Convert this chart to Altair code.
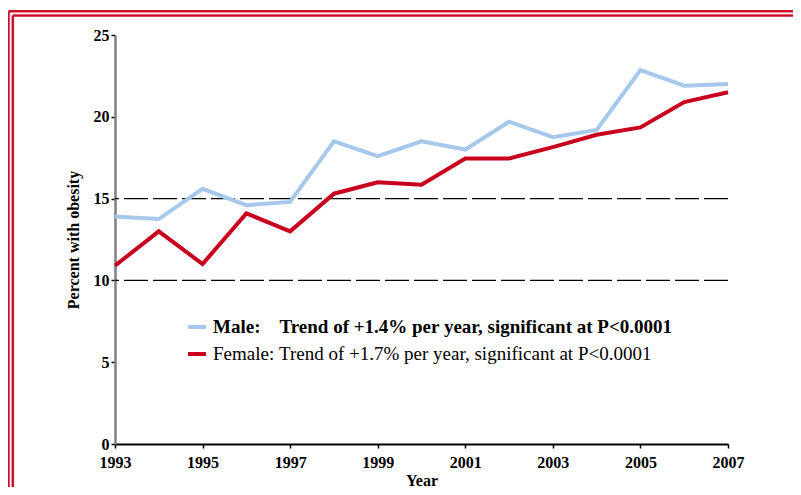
import altair as alt
import pandas as pd

years = list(range(1993, 2008))
male = [13.9, 13.75, 15.6, 14.6, 14.8, 18.5, 17.6, 18.5, 18.0, 19.7, 18.75, 19.2, 22.85, 21.9, 22.0]
female = [10.9, 13.0, 11.0, 14.1, 13.0, 15.3, 16.0, 15.85, 17.45, 17.45, 18.15, 18.9, 19.35, 20.9, 21.5]

NB = "\u00a0"
male_label = "Male:" + NB * 4 + "Trend of +1.4% per year, significant at P<0.0001"
female_label = "Female:" + NB + "Trend of +1.7% per year, significant at P<0.0001"
series_labels = [male_label, female_label]
series_colors = ["#a6c8ea", "#c8001e"]

x_ticks = [1993, 1995, 1997, 1999, 2001, 2003, 2005, 2007]
y_ticks = [0, 5, 10, 15, 20, 25]
grid_values = [10, 15]

FONT = "Liberation Serif"
BORDER = "#cc0f2c"

rows = []
for y, m, f in zip(years, male, female):
    rows.append({"year": y, "value": m, "series": male_label})
    rows.append({"year": y, "value": f, "series": female_label})
df = pd.DataFrame(rows)

x_scale = alt.Scale(domain=[1993, 2007], nice=False, zero=False)
y_scale = alt.Scale(domain=[0, 25], nice=False)

grid = alt.Chart(pd.DataFrame({"g": grid_values})).mark_rule(
    color="black", strokeWidth=1.2, strokeDash=[24, 5]
).encode(y=alt.Y("g:Q", scale=y_scale))

lines = alt.Chart(df).mark_line(strokeWidth=4).encode(
    x=alt.X(
        "year:Q",
        scale=x_scale,
        axis=alt.Axis(
            values=x_ticks, format="d", title="Year",
            domainColor="black", domainWidth=2, tickColor="black", tickSize=4, tickWidth=1.5,
            labelFont=FONT, labelFontSize=16, labelFontWeight="bold", labelColor="black",
            labelPadding=6, labelFlush=False,
            titleFont=FONT, titleFontSize=16, titleFontWeight="bold", titleColor="black",
            titlePadding=2, grid=False,
        ),
    ),
    y=alt.Y(
        "value:Q",
        scale=y_scale,
        axis=alt.Axis(
            values=y_ticks, title="Percent with obesity",
            domainColor="#7f7f7f", domainWidth=2.5, tickColor="black", tickSize=4, tickWidth=1.5,
            labelFont=FONT, labelFontSize=16, labelFontWeight="bold", labelColor="black",
            labelPadding=2,
            titleFont=FONT, titleFontSize=16, titleFontWeight="bold", titleColor="black",
            titlePadding=12, grid=False,
        ),
    ),
    color=alt.Color(
        "series:N",
        scale=alt.Scale(domain=series_labels, range=series_colors),
        sort=series_labels,
        legend=alt.Legend(
            title=None, orient="none", legendX=71, legendY=281, padding=0,
            symbolType="stroke", symbolStrokeWidth=4, symbolSize=324,
            labelFont=FONT, labelFontSize=19, labelColor="black",
            labelFontWeight={"expr": "indexof(datum.label, 'Male') == 0 ? 'bold' : 'normal'"},
            labelOffset=5, rowPadding=6, labelLimit=700,
        ),
    ),
)

one = pd.DataFrame({"k": [0]})
border_top_outer = alt.Chart(one).mark_rule(color=BORDER, strokeWidth=2.5).encode(
    x=alt.value(-106.5), x2=alt.value(690), y=alt.value(-23.7))
border_top_inner = alt.Chart(one).mark_rule(color=BORDER, strokeWidth=2.5).encode(
    x=alt.value(-102.2), x2=alt.value(690), y=alt.value(-19.5))
border_left_outer = alt.Chart(one).mark_rule(color=BORDER, strokeWidth=2.5).encode(
    x=alt.value(-106.5), y=alt.value(-23.7), y2=alt.value(470))
border_left_inner = alt.Chart(one).mark_rule(color=BORDER, strokeWidth=2.5).encode(
    x=alt.value(-102.2), y=alt.value(-19.5), y2=alt.value(470))

chart = alt.layer(
    grid, lines, border_top_outer, border_top_inner, border_left_outer, border_left_inner
).properties(
    width=613,
    height=409,
    autosize=alt.AutoSizeParams(type="none"),
    padding={"left": 107, "top": 27, "right": 65, "bottom": 43},
    background="white",
).configure_view(stroke=None)

chart.save("out.html", embed_options={"renderer": "svg", "actions": False})
